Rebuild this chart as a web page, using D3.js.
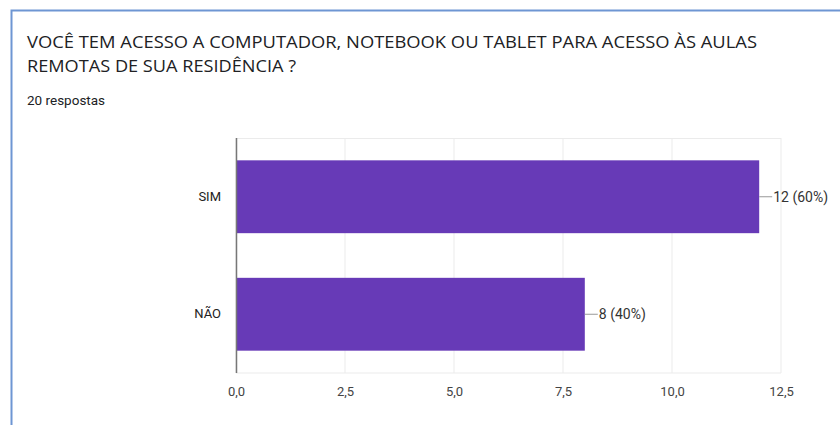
<!DOCTYPE html>
<html>
<head>
<meta charset="utf-8">
<script src="https://cdn.jsdelivr.net/npm/d3@7"></script>
<style>
  body { margin: 0; background: #fff; }
  svg { display: block; }
</style>
</head>
<body>
<div id="chart"></div>
<script>
// question + responses
var titleLines = ["VOCÊ TEM ACESSO A COMPUTADOR, NOTEBOOK OU TABLET PARA ACESSO ÀS AULAS",
                  "REMOTAS DE SUA RESIDÊNCIA ?"];
var titleWidths = [730, 269];
var subtitle = "20 respostas";
var categories = ["SIM", "NÃO"];
var counts = [12, 8];
var percents = [60, 40];
var xTicks = [0, 2.5, 5, 7.5, 10, 12.5];

var width = 840, height = 425;
var margin = {top: 138, right: 59, bottom: 52, left: 236};

var svg = d3.select("#chart").append("svg")
    .attr("width", width)
    .attr("height", height);

// card border (top + left only are visible)
svg.append("path")
    .attr("d", "M11.5,425 V10.5 H840")
    .attr("fill", "none")
    .attr("stroke", "#6e96d3")
    .attr("stroke-width", 2);

var title = svg.append("text")
    .attr("x", 27)
    .attr("font-family", "Open Sans, sans-serif")
    .attr("font-size", 16)
    .attr("fill", "#202124");
title.selectAll("tspan")
    .data(titleLines)
    .enter().append("tspan")
    .attr("x", 27)
    .attr("y", function(d, i) { return 48 + i * 24; })
    .attr("textLength", function(d, i) { return titleWidths[i]; })
    .attr("lengthAdjust", "spacingAndGlyphs")
    .text(function(d) { return d; });

svg.append("text")
    .attr("x", 27)
    .attr("y", 105)
    .attr("font-family", "Roboto, sans-serif")
    .attr("font-size", 13.5)
    .attr("fill", "#202124")
    .text(subtitle);

var innerW = width - margin.left - margin.right;
var innerH = height - margin.top - margin.bottom;

var g = svg.append("g")
    .attr("transform", "translate(" + margin.left + "," + margin.top + ")");

var x = d3.scaleLinear().domain([0, 12.5]).range([0, innerW]);
var y = d3.scaleBand().domain(categories).range([0, innerH]).paddingInner(0.38).paddingOuter(0.19);

// gridlines
g.append("g")
    .selectAll("line")
    .data(xTicks)
    .enter().append("line")
    .attr("x1", function(d) { return x(d); })
    .attr("x2", function(d) { return x(d); })
    .attr("y1", 0)
    .attr("y2", innerH)
    .attr("stroke", "#ebebeb")
    .attr("stroke-width", 1);

g.append("line")
    .attr("x1", 0).attr("x2", innerW)
    .attr("y1", 0.5).attr("y2", 0.5)
    .attr("stroke", "#ebebeb");
g.append("line")
    .attr("x1", 0).attr("x2", innerW)
    .attr("y1", innerH).attr("y2", innerH)
    .attr("stroke", "#ebebeb");

// bars
g.selectAll("rect.bar")
    .data(counts)
    .enter().append("rect")
    .attr("class", "bar")
    .attr("x", 0)
    .attr("y", function(d, i) { return y(categories[i]); })
    .attr("width", function(d) { return x(d); })
    .attr("height", y.bandwidth())
    .attr("fill", "#673ab7");

// baseline axis line
g.append("line")
    .attr("x1", 0.5).attr("x2", 0.5)
    .attr("y1", 0).attr("y2", innerH)
    .attr("stroke", "#777")
    .attr("stroke-width", 1.5);

// x axis tick labels
var xAxis = d3.axisBottom(x)
    .tickValues(xTicks)
    .tickSize(0)
    .tickPadding(14)
    .tickFormat(function(d) { return d3.format(".1f")(d).replace(".", ","); });
var xa = g.append("g")
    .attr("transform", "translate(0," + innerH + ")")
    .call(xAxis);
xa.select(".domain").remove();
xa.selectAll("text")
    .attr("font-family", "Roboto, sans-serif")
    .attr("font-size", 13)
    .attr("fill", "#444");

// category labels
var yAxis = d3.axisLeft(y).tickSize(0).tickPadding(15);
var ya = g.append("g").call(yAxis);
ya.select(".domain").remove();
ya.selectAll("text")
    .attr("font-family", "Roboto, sans-serif")
    .attr("font-size", 13)
    .attr("fill", "#222");

// value labels with leader lines
var lab = g.selectAll("g.vlabel")
    .data(counts)
    .enter().append("g")
    .attr("class", "vlabel")
    .attr("transform", function(d, i) {
        return "translate(" + x(d) + "," + (y(categories[i]) + y.bandwidth() / 2) + ")";
    });
lab.append("line")
    .attr("x1", 0).attr("x2", 13)
    .attr("y1", 0).attr("y2", 0)
    .attr("stroke", "#999");
lab.append("text")
    .attr("x", 14)
    .attr("dy", "0.35em")
    .attr("font-family", "Roboto, sans-serif")
    .attr("font-size", 14)
    .attr("fill", "#333")
    .text(function(d, i) { return d + " (" + percents[i] + "%)"; });
</script>
</body>
</html>
